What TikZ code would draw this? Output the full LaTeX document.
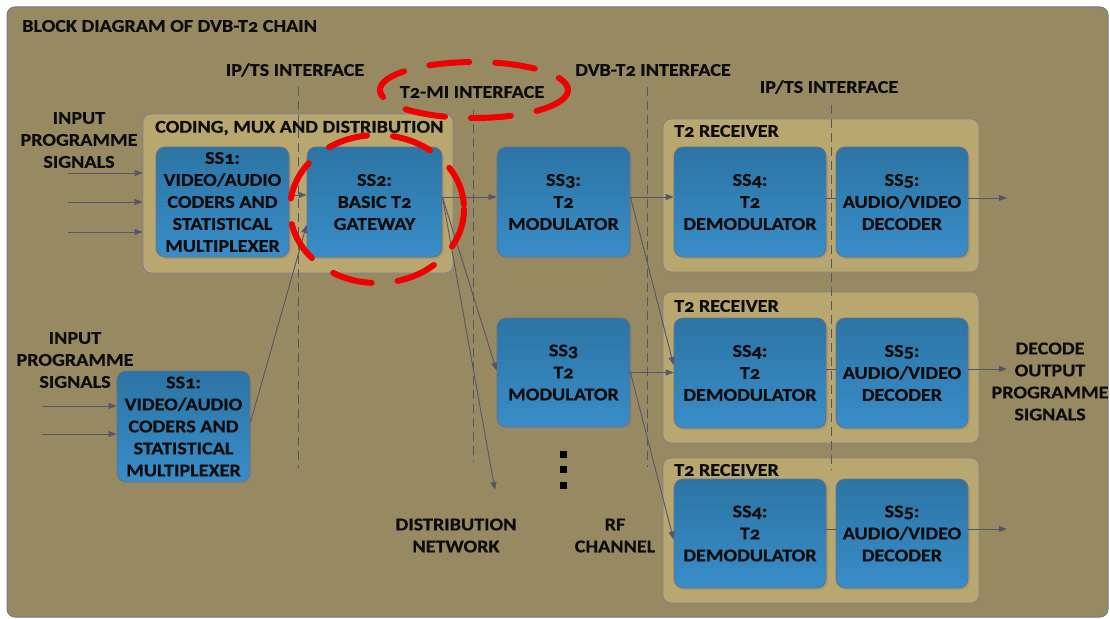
\documentclass[tikz,border=0pt]{standalone}
\usepackage{fontspec}
\setmainfont{Carlito}[Numbers=OldStyle, FakeStretch=1.12, BoldFeatures={FakeBold=0.4}]
\usetikzlibrary{shadows,arrows.meta}
\definecolor{bg}{HTML}{978A62}
\definecolor{khaki}{HTML}{B8A86F}
\definecolor{blueA}{HTML}{2C74A4}
\definecolor{blueB}{HTML}{398DC8}
\definecolor{edge}{HTML}{55566A}
\definecolor{txt}{HTML}{0C0C0C}
\definecolor{ringred}{HTML}{F00000}
\begin{document}
\begin{tikzpicture}[x=1pt,y=-1pt,
  lbl/.style={font=\fontsize{18}{22}\selectfont\bfseries, text=txt, align=center, inner sep=0pt},
  blk/.style={lbl, draw=edge!85, line width=0.8pt, rounded corners=9pt,
    top color=blueA, bottom color=blueB,
    drop shadow={shadow xshift=2pt, shadow yshift=-2pt, opacity=0.3}},
  cont/.style={draw=edge!75, line width=0.8pt, fill=khaki, rounded corners=8pt, inner sep=0pt},
  arr/.style={draw=edge, line width=0.9pt, -{Triangle[length=8pt,width=6pt]}},
  lin/.style={draw=edge, line width=0.9pt},
  ifc/.style={draw=edge, line width=0.9pt, dash pattern=on 9pt off 5pt},
  redring/.style={draw=ringred, line width=6pt, line cap=round, dash pattern=on 40pt off 26pt},
  dotsq/.style={fill=black, minimum size=7pt, inner sep=0pt}]
\useasboundingbox (0,0) rectangle (1110,618);
\fill[white] (0,0) rectangle (1110,618);
\node[draw=edge!80, line width=1pt, fill=bg, rounded corners=8pt, minimum width=1101pt, minimum height=610pt, inner sep=0pt] (frame) at (557.5,312) {};
\node[lbl, anchor=west] (title) at (22,26) {BLOCK DIAGRAM OF DVB-T2 CHAIN};

% containers
\node[cont, minimum width=310pt, minimum height=159pt] (coding) at (298,193.5) {};
\node[cont, minimum width=316pt, minimum height=153pt] (rx1) at (821,195.5) {};
\node[cont, minimum width=316pt, minimum height=151pt] (rx2) at (821,367.5) {};
\node[cont, minimum width=316pt, minimum height=145pt] (rx3) at (821,530.5) {};
\node[lbl, anchor=west] (codingt) at (155,128) {CODING, MUX AND DISTRIBUTION};
\node[lbl, anchor=west] (rx1t) at (674,131) {T2 RECEIVER};
\node[lbl, anchor=west] (rx2t) at (674,306) {T2 RECEIVER};
\node[lbl, anchor=west] (rx3t) at (674,470) {T2 RECEIVER};

% interface lines
\coordinate (ia1) at (298,87); \coordinate (ib1) at (298,468);
\coordinate (ia2) at (473,110); \coordinate (ib2) at (473,462);
\coordinate (ia3) at (647,87); \coordinate (ib3) at (647,467);
\coordinate (ia4) at (831,105); \coordinate (ib4) at (831,470);
\draw[ifc] (ia1) -- (ib1);
\draw[ifc] (ia2) -- (ib2);
\draw[ifc] (ia3) -- (ib3);
\draw[ifc] (ia4) -- (ib4);

% blocks
\node[blk, minimum width=133pt, minimum height=110pt] (ss1a) at (222.5,202) {SS1:\\VIDEO/AUDIO\\CODERS AND\\STATISTICAL\\MULTIPLEXER};
\node[blk, minimum width=135pt, minimum height=110pt] (ss2) at (374.5,202) {SS2:\\BASIC T2\\GATEWAY};
\node[blk, minimum width=133pt, minimum height=111pt] (ss1b) at (183.5,426.5) {SS1:\\VIDEO/AUDIO\\CODERS AND\\STATISTICAL\\MULTIPLEXER};
\node[blk, minimum width=133pt, minimum height=110pt] (ss3a) at (563.5,202) {SS3:\\T2\\MODULATOR};
\node[blk, minimum width=133pt, minimum height=109pt] (ss3b) at (563.5,372.5) {SS3\\T2\\MODULATOR};
\node[blk, minimum width=152pt, minimum height=110pt] (ss4a) at (750,202) {SS4:\\T2\\DEMODULATOR};
\node[blk, minimum width=132pt, minimum height=110pt] (ss5a) at (902,202) {SS5:\\AUDIO/VIDEO\\DECODER};
\node[blk, minimum width=152pt, minimum height=110pt] (ss4b) at (750,373) {SS4:\\T2\\DEMODULATOR};
\node[blk, minimum width=132pt, minimum height=110pt] (ss5b) at (902,373) {SS5:\\AUDIO/VIDEO\\DECODER};
\node[blk, minimum width=152pt, minimum height=109pt] (ss4c) at (750,533.5) {SS4:\\T2\\DEMODULATOR};
\node[blk, minimum width=132pt, minimum height=109pt] (ss5c) at (902,533.5) {SS5:\\AUDIO/VIDEO\\DECODER};

% labels
\node[lbl] (inlab1) at (79,140) {INPUT\\PROGRAMME\\SIGNALS};
\node[lbl] (inlab2) at (75,360) {INPUT\\PROGRAMME\\SIGNALS};
\node[lbl] (if1) at (295,70) {IP/TS INTERFACE};
\node[lbl] (if2) at (472,92) {T2-MI INTERFACE};
\node[lbl] (if3) at (653,70) {DVB-T2 INTERFACE};
\node[lbl] (if4) at (829,87) {IP/TS INTERFACE};
\node[lbl] (dist) at (456,535.5) {DISTRIBUTION\\NETWORK};
\node[lbl] (rfch) at (615,535.5) {RF\\CHANNEL};
\node[lbl] (outlab) at (1050,381.5) {DECODE\\OUTPUT\\PROGRAMME\\SIGNALS};
\node[dotsq] (d1) at (563,454) {};
\node[dotsq] (d2) at (563,469.5) {};
\node[dotsq] (d3) at (563,485) {};

% input arrows
\coordinate (i1) at (68,173); \coordinate (i2) at (68,202); \coordinate (i3) at (68,232);
\coordinate (i4) at (42,406); \coordinate (i5) at (42,434);
\draw[arr] (i1) -- (i1 -| coding.west);
\draw[arr] (i2) -- (i2 -| coding.west);
\draw[arr] (i3) -- (i3 -| coding.west);
\draw[arr] (i4) -- (i4 -| ss1b.west);
\draw[arr] (i5) -- (i5 -| ss1b.west);

% chain connectors
\draw[arr] ([yshift=7pt]ss1a.east) -- ([yshift=7pt]ss2.west);
\draw[arr] ([yshift=4pt]ss1b.east) -- ([yshift=-23pt]ss2.west);
\draw[arr] ([yshift=5pt]ss2.east) -- ([yshift=5pt]ss3a.west);
\draw[arr] ([yshift=5pt]ss2.east) -- ([yshift=2pt]ss3b.west);
\coordinate (dn) at (495,490);
\draw[arr] ([yshift=5pt]ss2.east) -- (dn);
\draw[arr] ([yshift=5pt]ss3a.east) -- ([yshift=5pt]ss4a.west);
\draw[arr] ([yshift=5pt]ss3a.east) -- ([yshift=8pt]ss4b.west);
\draw[arr] (ss3b.east) -- (ss3b.east -| ss4b.west);
\draw[arr] (ss3b.east) -- ([yshift=-6pt]ss4c.west);
\draw[lin] ([yshift=4pt]ss4a.east) -- ([yshift=4pt]ss5a.west);
\draw[lin] ([yshift=4pt]ss4b.east) -- ([yshift=4pt]ss5b.west);
\draw[lin] ([yshift=4.5pt]ss4c.east) -- ([yshift=4.5pt]ss5c.west);
\coordinate (o1) at (1007,198); \coordinate (o2) at (1007,369); \coordinate (o3) at (1007,529);
\draw[arr] (o1 -| ss5a.east) -- (o1);
\draw[arr] (o2 -| ss5b.east) -- (o2);
\draw[arr] (o3 -| ss5c.east) -- (o3);

% red highlight rings
\draw[redring] (474,90) ellipse [x radius=94, y radius=28];
\draw[redring] (377,209) ellipse [x radius=87, y radius=74];
\end{tikzpicture}
\end{document}
